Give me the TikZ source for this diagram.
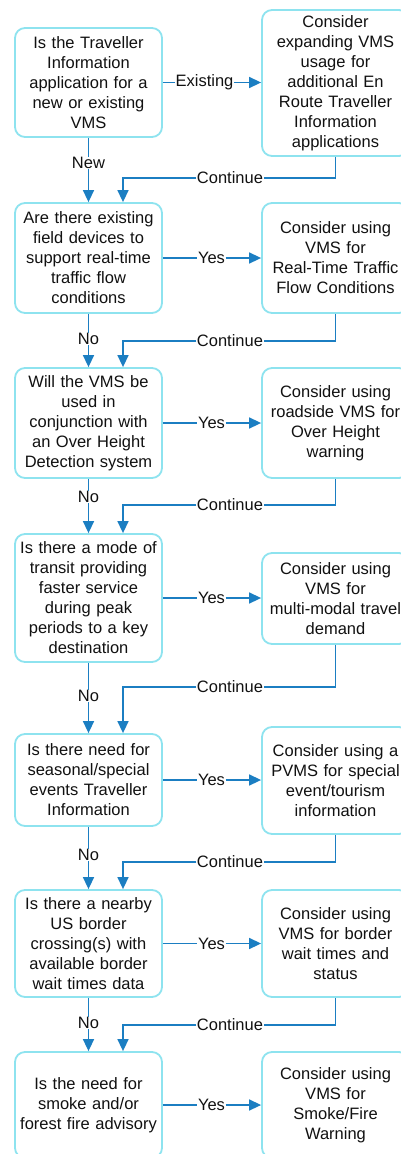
\documentclass[tikz,border=0pt]{standalone}
\usepackage{fontspec}
\setmainfont{Liberation Sans}
\usetikzlibrary{arrows.meta}
\definecolor{boxline}{HTML}{8EE3EF}
\definecolor{flowblue}{HTML}{1B7EC2}
\definecolor{ink}{HTML}{111111}
\begin{document}
\begin{tikzpicture}[x=1pt,y=-1pt,
  font=\fontsize{16.5}{20}\selectfont, text=ink,
  box/.style={draw=boxline,line width=1.8pt,rounded corners=10pt,fill=white,
    text width=140pt,inner sep=3.5pt,align=center},
  flow/.style={draw=flowblue,line width=1.5pt},
  arr/.style={flow,-{Triangle[length=12pt,width=11pt]}},
  lbl/.style={inner sep=0.5pt}]
\useasboundingbox (0,0) rectangle (401,1154);
% questions
\node[box,minimum height=109pt] (q1) at (88.5,82.5) {Is the Traveller\\Information\\application for a\\new or existing\\VMS};
\node[box,minimum height=110pt] (q2) at (88.5,258) {Are there existing\\field devices to\\support real-time\\traffic flow\\conditions};
\node[box,minimum height=110pt] (q3) at (88.5,423) {Will the VMS be\\used in\\conjunction with\\an Over Height\\Detection system};
\node[box,minimum height=128pt] (q4) at (88.5,598) {Is there a mode of\\transit providing\\faster service\\during peak\\periods to a key\\destination};
\node[box,minimum height=92pt] (q5) at (88.5,780) {Is there need for\\seasonal/special\\events Traveller\\Information};
\node[box,minimum height=107pt] (q6) at (88.5,943.5) {Is there a nearby\\US border\\crossing(s) with\\available border\\wait times data};
\node[box,minimum height=106pt] (q7) at (88.5,1105) {Is the need for\\smoke and/or\\forest fire advisory};
% answers
\node[box,minimum height=146pt] (a1) at (335.5,83) {Consider\\expanding VMS\\usage for\\additional En\\Route Traveller\\Information\\applications};
\node[box,minimum height=110pt] (a2) at (335.5,258) {Consider using\\VMS for\\Real-Time Traffic\\Flow Conditions};
\node[box,minimum height=110pt] (a3) at (335.5,423) {Consider using\\roadside VMS for\\Over Height\\warning};
\node[box,minimum height=91pt] (a4) at (335.5,598.5) {Consider using\\VMS for\\multi-modal travel\\demand};
\node[box,minimum height=107pt] (a5) at (335.5,780.5) {Consider using a\\PVMS for special\\event/tourism\\information};
\node[box,minimum height=107pt] (a6) at (335.5,943.5) {Consider using\\VMS for border\\wait times and\\status};
\node[box,minimum height=106pt] (a7) at (335.5,1105) {Consider using\\VMS for\\Smoke/Fire\\Warning};
% yes / existing
\node[lbl] (y1) at (204.5,82.5) {Existing};
\draw[flow] (q1.east) -- (y1.west);
\draw[arr] (y1.east) -- (y1.east -| a1.west);
\foreach \i/\yy in {2/258,3/423,4/598,5/780,6/943.5,7/1105}{
  \node[lbl] (y\i) at (211.5,\yy) {Yes};
  \draw[flow] (q\i.east) -- (y\i.west);
  \draw[arr] (y\i.east) -- (y\i.east -| a\i.west);
}
% new / no
\node[lbl] (n1) at (88.5,163) {New};
\node[lbl] (n2) at (88.5,339) {No};
\node[lbl] (n3) at (88.5,497) {No};
\node[lbl] (n4) at (88.5,696) {No};
\node[lbl] (n5) at (88.5,855) {No};
\node[lbl] (n6) at (88.5,1023) {No};
% continue
\node[lbl] (c1) at (230,178) {Continue};
\node[lbl] (c2) at (230,341) {Continue};
\node[lbl] (c3) at (230,505) {Continue};
\node[lbl] (c4) at (230,687) {Continue};
\node[lbl] (c5) at (230,862) {Continue};
\node[lbl] (c6) at (230,1025) {Continue};
\foreach \i/\j in {1/2,2/3,3/4,4/5,5/6,6/7}{
  \draw[flow] (q\i.south) -- (n\i.north);
  \draw[arr] (n\i.south) -- (q\j.north);
  \draw[flow] (a\i.south) |- (c\i.east);
  \draw[arr] (c\i.west) -| ([xshift=34.5pt]q\j.north);
}
\end{tikzpicture}
\end{document}
